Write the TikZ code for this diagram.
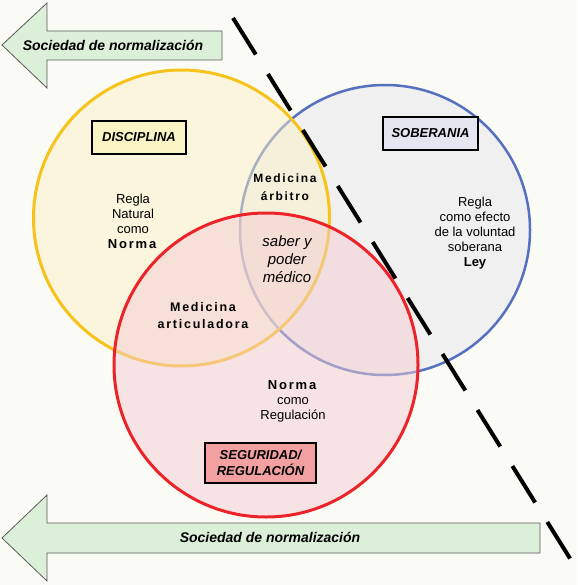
\documentclass[tikz,border=0pt]{standalone}
\usepackage{fontspec}
\setmainfont{Liberation Sans}
\newcommand{\espaciado}[1]{{\addfontfeatures{LetterSpace=14}#1}}
\definecolor{fondo}{HTML}{FBFBF6}
\definecolor{verdeflecha}{HTML}{DCEFD9}
\definecolor{amarillo}{HTML}{F7C21C}
\definecolor{azul}{HTML}{5670C0}
\definecolor{rojo}{HTML}{EC2328}
\definecolor{rellenoamarillo}{HTML}{FAF1C4}
\definecolor{rellenorojo}{HTML}{F4CCD3}
\definecolor{cajaamarilla}{HTML}{FAF4C4}
\definecolor{cajaazul}{HTML}{E6E6F0}
\definecolor{cajaroja}{HTML}{F2A0A0}
\tikzset{
  flecha/.style={draw=black!65, line width=0.8pt, fill=verdeflecha},
  textoflecha/.style={font=\fontsize{14}{16}\selectfont\bfseries\itshape},
  caja/.style={draw=black, line width=1.6pt, font=\fontsize{13}{16}\selectfont\bfseries\itshape, align=center, inner sep=2pt},
  texto/.style={align=center, font=\fontsize{13}{15}\selectfont},
}
\begin{document}
\begin{tikzpicture}[x=1pt, y=-1pt]
\useasboundingbox (0,0) rectangle (577,585);
\fill[fondo] (0,0) rectangle (577,585);

% Arrows
\draw[flecha] (2,45) -- (47,3) -- (47,31) -- (222,31) -- (222,60) -- (47,60) -- (47,88) -- cycle;
\node[textoflecha] (norm-arriba) at (113,45) {Sociedad de normalización};
\draw[flecha] (2,538) -- (47,495) -- (47,523) -- (540,523) -- (540,553) -- (47,553) -- (47,581) -- cycle;
\node[textoflecha] (norm-abajo) at (270,537) {Sociedad de normalización};

% Circles
\draw[azul, line width=2.5pt, fill=black!6] (385,230) circle (145pt);
\draw[amarillo, line width=3pt, fill=rellenoamarillo, fill opacity=0.5] (181.5,218) circle (148pt);
\draw[rojo, line width=3pt, fill=rellenorojo, fill opacity=0.5] (266,365) circle (152pt);

% Boxes
\node[caja, fill=cajaamarilla, minimum width=94, minimum height=33] (disciplina) at (139,137.5) {DISCIPLINA};
\node[caja, fill=cajaazul, minimum width=95, minimum height=33] (soberania) at (430.5,133.5) {SOBERANIA};
\node[caja, fill=cajaroja, minimum width=111, minimum height=40, font=\fontsize{13}{16}\selectfont\bfseries\itshape] (seguridad) at (260.5,463) {SEGURIDAD/\\REGULACIÓN};

% Texts
\node[texto] (regla-natural) at (133,221) {Regla\\Natural\\como\\\textbf{\espaciado{Norma}}};
\node[texto, font=\fontsize{12}{18}\selectfont\bfseries] (arbitro) at (285,187) {\espaciado{Medicina}\\\espaciado{árbitro}};
\node[texto, font=\fontsize{15}{18}\selectfont\itshape] (saber) at (287,259) {saber y\\poder\\médico};
\node[texto] (regla-ley) at (475,233) {Regla\\como efecto\\de la voluntad\\soberana\\\textbf{Ley}};
\node[texto, font=\fontsize{12.5}{17}\selectfont\bfseries] (articuladora) at (203,316) {\espaciado{Medicina}\\\espaciado{articuladora}};
\node[texto] (regulacion) at (293,401) {\textbf{\espaciado{Norma}}\\como\\Regulación};

% Dashed cut
\coordinate (corte-a) at (233,18);
\coordinate (corte-b) at (571,560);
\draw[line width=4pt, dash pattern=on 43pt off 23pt] (corte-a) -- (corte-b);

\end{tikzpicture}
\end{document}
